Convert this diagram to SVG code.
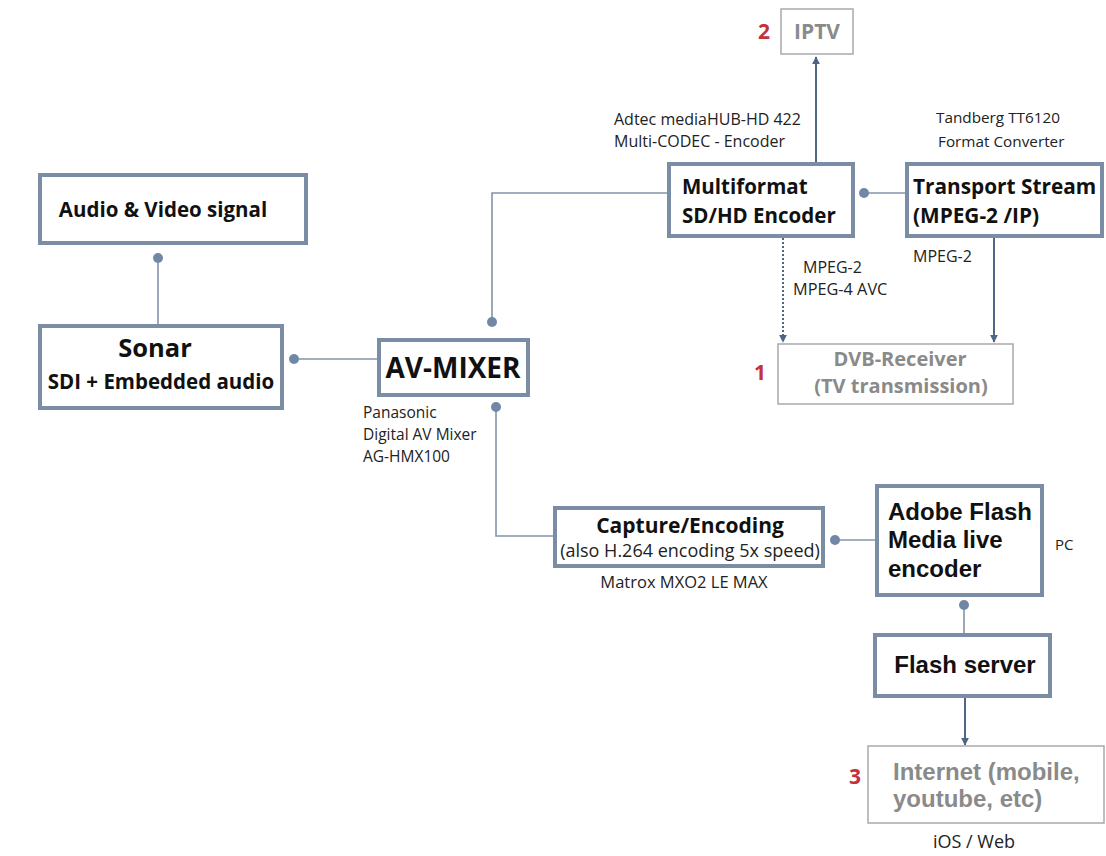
<svg xmlns="http://www.w3.org/2000/svg" width="1106" height="856" viewBox="0 0 1106 856">
<style>
.box{fill:#fff;stroke:#7a8da5;stroke-width:4}
.gbox{fill:#fff;stroke:#a9a9a9;stroke-width:1.5}
.ln{fill:none;stroke:#8294ab;stroke-width:1.6}
.arr{fill:none;stroke:#4f6685;stroke-width:2}
.dot{fill:#7088a6}
.cb{font-family:"Open Sans",Lato,sans-serif;font-weight:bold;fill:#111}
.cr{font-family:"Open Sans",Lato,sans-serif;fill:#222}
.ab{font-family:"Liberation Sans",Arial,sans-serif;font-weight:bold;fill:#111}
.gt{font-family:"Open Sans",Lato,sans-serif;font-weight:bold;fill:#8a8a8a}
.gta{font-family:"Liberation Sans",Arial,sans-serif;font-weight:bold;fill:#8a8a8a}
.num{font-family:"Open Sans",Lato,sans-serif;font-weight:bold;fill:#c5303a}
</style>
<defs>
<marker id="ah" viewBox="0 0 10 10" refX="9" refY="5" markerWidth="4" markerHeight="4" orient="auto" markerUnits="strokeWidth">
<path d="M0,0 L10,5 L0,10 z" fill="#4f6685"/>
</marker>
</defs>
<rect width="1106" height="856" fill="#fff"/>

<g id="connectors">
<line class="ln" x1="158" y1="258" x2="158" y2="324"/>
<circle class="dot" cx="158" cy="258" r="5"/>
<line class="ln" x1="294" y1="359" x2="377" y2="359"/>
<circle class="dot" cx="294" cy="359" r="5"/>
<polyline class="ln" points="492,322 492,193 667,193"/>
<circle class="dot" cx="492" cy="322" r="5"/>
<polyline class="ln" points="496,407 496,536 553,536"/>
<circle class="dot" cx="496" cy="407" r="5"/>
<line class="ln" x1="835" y1="540" x2="875" y2="540"/>
<circle class="dot" cx="835" cy="540" r="5"/>
<line class="ln" x1="864" y1="193" x2="905" y2="193"/>
<circle class="dot" cx="864" cy="193" r="5"/>
<line class="ln" x1="964" y1="605" x2="964" y2="633"/>
<circle class="dot" cx="964" cy="605" r="5"/>
<line class="arr" x1="816" y1="162" x2="816" y2="57" marker-end="url(#ah)"/>
<line class="arr" x1="783" y1="238" x2="783" y2="342" stroke-dasharray="2,2" marker-end="url(#ah)"/>
<line class="arr" x1="994" y1="238" x2="994" y2="342" marker-end="url(#ah)"/>
<line class="arr" x1="965" y1="698" x2="965" y2="745" marker-end="url(#ah)"/>
</g>

<g id="audio-video">
<rect class="box" x="40" y="175" width="266" height="68"/>
<text class="cb" x="163" y="217" font-size="20.5" text-anchor="middle">Audio &amp; Video signal</text>
</g>

<g id="sonar">
<rect class="box" x="40" y="326" width="242" height="82"/>
<text class="cb" x="155" y="357" font-size="25.5" text-anchor="middle">Sonar</text>
<text class="cb" x="161" y="389" font-size="20.5" text-anchor="middle">SDI + Embedded audio</text>
</g>

<g id="av-mixer">
<rect class="box" x="379" y="340" width="149" height="55"/>
<text class="cb" x="453" y="378" font-size="28" text-anchor="middle">AV-MIXER</text>
<text class="cr" x="363" y="418" font-size="15.5">Panasonic</text>
<text class="cr" x="363" y="440" font-size="15.5">Digital AV Mixer</text>
<text class="cr" x="363" y="462" font-size="15.5">AG-HMX100</text>
</g>

<g id="encoder">
<rect class="box" x="669" y="164" width="184" height="72"/>
<text class="cb" x="682" y="194" font-size="20.5">Multiformat</text>
<text class="cb" x="682" y="223" font-size="20.5">SD/HD Encoder</text>
<text class="cr" x="614" y="125" font-size="16">Adtec mediaHUB-HD 422</text>
<text class="cr" x="614" y="147" font-size="16">Multi-CODEC - Encoder</text>
</g>

<g id="transport">
<rect class="box" x="907" y="164" width="195" height="72"/>
<text class="cb" x="913" y="194" font-size="20.8">Transport Stream</text>
<text class="cb" x="913" y="223" font-size="20.8">(MPEG-2 /IP)</text>
<text class="cr" x="936" y="123" font-size="15.3">Tandberg TT6120</text>
<text class="cr" x="938" y="147" font-size="15.3">Format Converter</text>
<text class="cr" x="913" y="262" font-size="16">MPEG-2</text>
</g>

<g id="iptv">
<rect class="gbox" x="781" y="9" width="72" height="45"/>
<text class="gt" x="817" y="39" font-size="21" text-anchor="middle">IPTV</text>
<text class="num" x="764" y="39" font-size="21" text-anchor="middle">2</text>
</g>

<g id="dvb">
<rect class="gbox" x="778" y="344" width="235" height="60"/>
<text class="gt" x="900" y="366" font-size="20" text-anchor="middle">DVB-Receiver</text>
<text class="gt" x="901" y="393" font-size="20" text-anchor="middle">(TV transmission)</text>
<text class="num" x="760" y="380" font-size="21" text-anchor="middle">1</text>
<text class="cr" x="803" y="273" font-size="16">MPEG-2</text>
<text class="cr" x="793" y="295" font-size="16.3">MPEG-4 AVC</text>
</g>

<g id="capture">
<rect class="box" x="555" y="508" width="268" height="58"/>
<text class="cb" x="690" y="533" font-size="21" text-anchor="middle">Capture/Encoding</text>
<text class="cr" x="690" y="557" font-size="18" text-anchor="middle">(also H.264 encoding 5x speed)</text>
<text class="cr" x="684" y="588" font-size="16.5" text-anchor="middle">Matrox MXO2 LE MAX</text>
</g>

<g id="adobe">
<rect class="box" x="877" y="486" width="165" height="109"/>
<text class="ab" x="888" y="520" font-size="24">Adobe Flash</text>
<text class="ab" x="888" y="548" font-size="24">Media live</text>
<text class="ab" x="888" y="577" font-size="24">encoder</text>
<text class="cr" x="1055" y="550" font-size="15">PC</text>
</g>

<g id="flash-server">
<rect class="box" x="875" y="635" width="175" height="61"/>
<text class="ab" x="965" y="673" font-size="24" text-anchor="middle">Flash server</text>
</g>

<g id="internet">
<rect class="gbox" x="868" y="746" width="236" height="77"/>
<text class="gta" x="893" y="780" font-size="24">Internet (mobile,</text>
<text class="gta" x="893" y="807" font-size="24">youtube, etc)</text>
<text class="num" x="855" y="784" font-size="21" text-anchor="middle">3</text>
<text class="cr" x="974" y="848" font-size="18" text-anchor="middle">iOS / Web</text>
</g>
</svg>
